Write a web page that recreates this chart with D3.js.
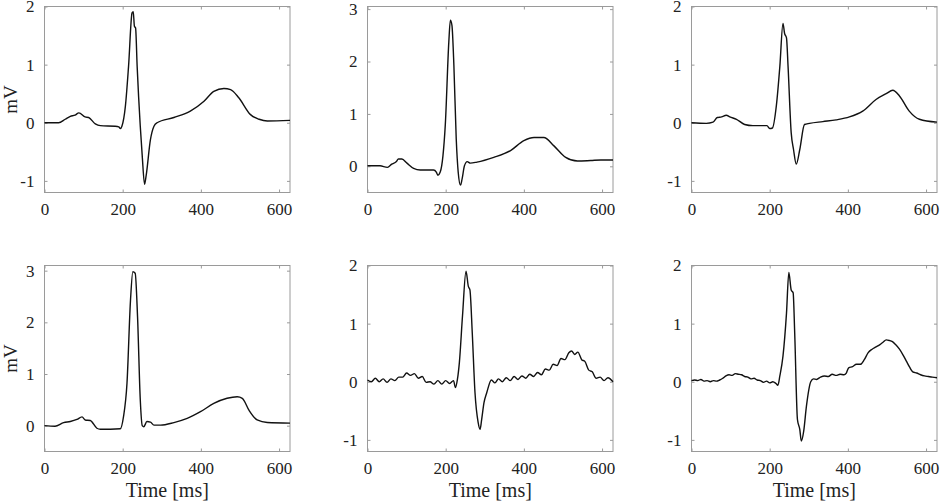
<!DOCTYPE html>
<html>
<head>
<meta charset="utf-8">
<script src="https://cdn.jsdelivr.net/npm/d3@7"></script>
<style>
  body { margin: 0; background: #fff; }
  svg text { font-family: "Liberation Serif", "Times New Roman", serif !important; fill: #222; }
</style>
</head>
<body>
<script>
(function() {

	// [time ms, mV]
	var beatA = [[0,0],[36,0],[53,0.06],[66,0.11],[78,0.13],[88,0.17],[104,0.1],[113,0.09],[130,-0.02],[143,-0.05],[181,-0.06],[190,-0.07],[194,-0.1],[198,-0.06],[207,0.29],[215,0.97],[224,1.89],[227,1.91],[230,1.66],[233,1.63],[237,0.97],[245,-0.06],[250,-0.57],[256,-1.06],[260,-0.91],[271,-0.29],[280,-0.06],[288,0],[331,0.09],[373,0.2],[408,0.37],[433,0.54],[459,0.59],[476,0.57],[497,0.43],[527,0.14],[549,0.06],[570,0.03],[628,0.04]];
	var beatB = [[0,0.01],[32,0.01],[51,-0.02],[62,0.04],[74,0.09],[79,0.14],[88,0.14],[101,0.06],[118,-0.04],[135,-0.07],[169,-0.07],[176,-0.11],[180,-0.17],[186,-0.11],[193,0.2],[199,0.79],[208,2.37],[212,2.79],[216,2.69],[221,1.92],[227,0.52],[232,-0.11],[238,-0.36],[242,-0.24],[248,0.01],[255,0.09],[263,0.06],[280,0.08],[323,0.17],[366,0.3],[400,0.49],[426,0.55],[451,0.55],[477,0.39],[507,0.17],[537,0.1],[571,0.11],[597,0.12],[628,0.12]];
	var beatC = [[0,0],[38,-0.01],[55,0.01],[66,0.09],[77,0.1],[89,0.13],[98,0.1],[115,0.06],[136,-0.03],[157,-0.05],[193,-0.05],[200,-0.1],[207,-0.09],[217,0.29],[226,0.97],[234,1.71],[238,1.54],[243,1.46],[247,0.97],[255,-0.17],[261,-0.46],[268,-0.71],[277,-0.46],[289,-0.03],[302,-0.01],[336,0.02],[370,0.05],[404,0.1],[438,0.2],[472,0.4],[498,0.5],[515,0.56],[532,0.46],[557,0.2],[583,0.06],[628,0.01]];
	var beatD = [[0,0],[27,-0.01],[49,0.06],[66,0.08],[83,0.12],[96,0.17],[104,0.11],[117,0.1],[134,-0.05],[143,-0.07],[194,-0.06],[202,0.17],[211,0.82],[220,2.43],[226,2.98],[232,2.95],[238,2.11],[245,0.5],[250,0],[254,-0.02],[262,0.08],[271,0.07],[280,0.01],[297,0.01],[331,0.06],[365,0.14],[399,0.27],[433,0.43],[467,0.53],[493,0.56],[506,0.53],[523,0.3],[544,0.11],[570,0.06],[628,0.05]];
	var beatE = [[0,0.03],[10,0],[20,0.06],[30,0],[40,0.05],[50,-0.01],[60,0.05],[70,0.02],[80,0.08],[90,0.08],[100,0.15],[110,0.11],[120,0.14],[130,0.06],[140,0.09],[150,-0.01],[160,0],[170,-0.04],[180,0.02],[190,-0.04],[200,0.02],[210,-0.03],[220,0.02],[225,-0.1],[230,0.04],[235,0.33],[243,1.13],[252,1.9],[258,1.64],[262,1.58],[268,0.84],[275,-0.19],[283,-0.7],[288,-0.82],[292,-0.65],[298,-0.36],[305,-0.19],[317,0.03],[326,-0.02],[335,0.05],[345,0],[355,0.07],[365,0.02],[375,0.09],[385,0.04],[395,0.1],[405,0.06],[415,0.13],[425,0.09],[435,0.16],[445,0.12],[455,0.22],[465,0.2],[475,0.3],[485,0.28],[495,0.4],[505,0.38],[515,0.5],[522,0.53],[530,0.47],[538,0.51],[548,0.38],[556,0.35],[566,0.2],[575,0.17],[585,0.06],[595,0.08],[605,0.02],[615,0.07],[628,0]];
	var beatF = [[0,0.02],[8,0.03],[16,0.02],[24,0.04],[32,0.01],[40,0.02],[48,0],[56,0.02],[64,0.01],[72,0.03],[80,0.06],[88,0.1],[96,0.12],[104,0.11],[112,0.14],[120,0.13],[128,0.12],[136,0.09],[144,0.08],[152,0.05],[160,0.06],[168,0.03],[176,0.02],[184,-0.01],[192,0.01],[200,-0.02],[208,0],[216,-0.03],[221,-0.06],[226,0.1],[234,0.44],[243,1.18],[249,1.88],[255,1.58],[260,1.53],[264,0.84],[271,-0.65],[277,-0.82],[281,-1.02],[287,-0.85],[294,-0.42],[305,0],[312,0.05],[320,0.04],[330,0.08],[340,0.1],[350,0.09],[360,0.13],[370,0.11],[380,0.13],[390,0.12],[396,0.15],[402,0.24],[412,0.26],[422,0.3],[432,0.3],[442,0.38],[452,0.5],[462,0.56],[472,0.6],[482,0.64],[490,0.68],[498,0.72],[506,0.71],[514,0.69],[522,0.64],[532,0.56],[542,0.45],[550,0.35],[558,0.25],[566,0.17],[576,0.15],[586,0.12],[596,0.1],[606,0.09],[616,0.08],[628,0.07]];

	var xTicks = [0, 200, 400, 600];
	var yTicksWide = [-1, 0, 1, 2];
	var yTicksTall = [0, 1, 2, 3];
	var domainWide = [-1.2, 2];
	var domainTall = [-0.5, 3.05];
	var timeDomain = [0, 628];

	var width = 941;
	var height = 503;
	var colLeft = [44.5, 367.5, 691.5];
	var plotW = 245.5;
	var rowTop = [6.5, 265.5];
	var plotH = 186;
	var tickLen = 3;
	var boxColor = '#9a9a9a';
	var serif = '"Liberation Serif", "Times New Roman", serif';

	var panels = [
		{ data: beatA, row: 0, col: 0, dom: domainWide, ticks: yTicksWide },
		{ data: beatB, row: 0, col: 1, dom: domainTall, ticks: yTicksTall },
		{ data: beatC, row: 0, col: 2, dom: domainWide, ticks: yTicksWide },
		{ data: beatD, row: 1, col: 0, dom: [-0.5, 3.1], ticks: yTicksTall },
		{ data: beatE, row: 1, col: 1, dom: domainWide, ticks: yTicksWide },
		{ data: beatF, row: 1, col: 2, dom: domainWide, ticks: yTicksWide }
	];

	var svg = d3.select('body')
		.append('svg')
			.attr('width', width)
			.attr('height', height);

	panels.forEach(function(p) {

		var g = svg.append('g')
			.attr('transform', 'translate(' + colLeft[p.col] + ',' + rowTop[p.row] + ')');

		var x = d3.scaleLinear().domain(timeDomain).range([0, plotW]);
		var y = d3.scaleLinear().domain(p.dom).range([plotH, 0]);

		// box
		g.append('rect')
			.attr('width', plotW)
			.attr('height', plotH)
			.attr('fill', 'none')
			.attr('stroke', boxColor)
			.attr('stroke-width', 1);

		// inward ticks on all four sides, labels bottom / left
		var bottom = g.append('g')
			.attr('transform', 'translate(0,' + plotH + ')')
			.call(d3.axisBottom(x).tickValues(xTicks).tickSize(-tickLen).tickPadding(10));
		g.append('g')
			.call(d3.axisTop(x).tickValues(xTicks).tickSize(-tickLen).tickFormat(''));
		var left = g.append('g')
			.call(d3.axisLeft(y).tickValues(p.ticks).tickSize(-tickLen).tickPadding(10).tickFormat(d3.format('d')));
		g.append('g')
			.attr('transform', 'translate(' + plotW + ',0)')
			.call(d3.axisRight(y).tickValues(p.ticks).tickSize(-tickLen).tickFormat(''));

		g.selectAll('g')
			.attr('font-family', serif)
			.attr('font-size', 17);
		g.selectAll('.domain').remove();
		g.selectAll('.tick line').attr('stroke', boxColor);
		bottom.selectAll('.tick text').attr('dy', '0.72em');
		left.selectAll('.tick text').text(function(d) { return d < 0 ? '-' + Math.abs(d) : d; });

		var line = d3.line()
			.x(function(d) { return x(d[0]); })
			.y(function(d) { return y(d[1]); })
			.curve(d3.curveMonotoneX);

		g.append('path')
			.datum(p.data)
			.attr('d', line)
			.attr('fill', 'none')
			.attr('stroke', '#111')
			.attr('stroke-width', 1.4)
			.attr('stroke-linejoin', 'round');

		if (p.col === 0) {
			svg.append('text')
				.attr('transform', 'translate(17,' + (rowTop[p.row] + plotH / 2) + ') rotate(-90)')
				.attr('text-anchor', 'middle')
				.attr('font-family', serif)
				.attr('font-size', 19)
				.text('mV');
		}
		if (p.row === 1) {
			svg.append('text')
				.attr('x', colLeft[p.col] + plotW / 2)
				.attr('y', 497)
				.attr('text-anchor', 'middle')
				.attr('font-family', serif)
				.attr('font-size', 20)
				.text('Time [ms]');
		}
	});

})();
</script>
</body>
</html>
